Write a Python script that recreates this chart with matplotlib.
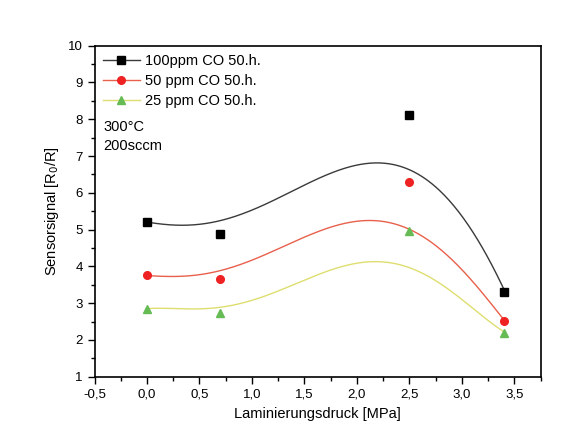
import numpy as np
import matplotlib
matplotlib.use('Agg')
import matplotlib.pyplot as plt
from matplotlib.ticker import MultipleLocator, FuncFormatter

plt.rcParams['font.family'] = ['Liberation Sans', 'DejaVu Sans']

# measured points
druck = [0.0, 0.7, 2.5, 3.4]
co_100 = [5.21, 4.87, 8.11, 3.31]
co_50 = [3.76, 3.65, 6.30, 2.51]
co_25 = [2.84, 2.72, 4.96, 2.18]

# fitted curves
fit_x_100 = [0.0, 0.35, 0.70, 1.08, 1.40, 1.94, 2.22, 2.54, 2.86, 3.17, 3.40]
fit_y_100 = [5.21, 5.10, 5.26, 5.62, 6.10, 6.66, 6.80, 6.66, 5.80, 4.62, 3.38]
fit_x_50 = [0.0, 0.35, 0.70, 1.08, 1.46, 1.81, 2.22, 2.54, 2.86, 3.17, 3.40]
fit_y_50 = [3.76, 3.70, 3.90, 4.31, 4.71, 5.08, 5.26, 4.99, 4.26, 3.36, 2.55]
fit_x_25 = [0.0, 0.35, 0.70, 1.08, 1.46, 1.81, 2.13, 2.54, 2.86, 3.17, 3.40]
fit_y_25 = [2.86, 2.81, 2.92, 3.17, 3.54, 3.95, 4.14, 3.95, 3.36, 2.72, 2.22]


def smooth(xs, ys):
    c = np.polyfit(xs, ys, 5)
    xx = np.linspace(min(xs), max(xs), 300)
    return xx, np.polyval(c, xx)


fig = plt.figure(figsize=(5.71, 4.43), dpi=100)
ax = fig.add_axes([0.1655, 0.1497, 0.7815, 0.7471])

series = [
    ('100ppm CO 50.h.', co_100, fit_x_100, fit_y_100, '#3a3a3a', 'black', 's', 5.5),
    ('50 ppm CO 50.h.', co_50, fit_x_50, fit_y_50, '#e8604c', '#ee2222', 'o', 5.5),
    ('25 ppm CO 50.h.', co_25, fit_x_25, fit_y_25, '#dede70', '#66bb55', '^', 6),
]
for name, vals, fx, fy, lc, mc, mk, ms in series:
    xx, yy = smooth(fx, fy)
    ax.plot(xx, yy, color=lc, lw=1.0, zorder=2)
    ax.plot(druck, vals, linestyle='none', marker=mk, ms=ms, color=mc,
            markeredgecolor=mc, zorder=3)
    ax.plot([], [], color=lc, lw=1.0, marker=mk, ms=ms, markerfacecolor=mc,
            markeredgecolor=mc, label=name)

ax.legend(loc='upper left', frameon=False, fontsize=10.5, handlelength=2.6,
          handletextpad=0.3, labelspacing=0.42, borderaxespad=0.2,
          borderpad=0.35)
ax.text(0.02, 0.755, '300°C', transform=ax.transAxes, fontsize=10.5,
        va='center')
ax.text(0.02, 0.697, '200sccm', transform=ax.transAxes, fontsize=10.5,
        va='center')

ax.set_xlim(-0.5, 3.75)
ax.set_ylim(1, 10)
ax.xaxis.set_major_locator(MultipleLocator(0.5))
ax.xaxis.set_minor_locator(MultipleLocator(0.25))
ax.yaxis.set_major_locator(MultipleLocator(1))
ax.yaxis.set_minor_locator(MultipleLocator(0.5))
ax.xaxis.set_major_formatter(FuncFormatter(lambda v, p: f'{v:.1f}'.replace('.', ',')))
ax.tick_params(which='major', direction='out', length=5, width=1, labelsize=9.5)
ax.tick_params(which='minor', direction='out', length=3, width=1)
for s in ax.spines.values():
    s.set_linewidth(1.2)

ax.set_xlabel('Laminierungsdruck [MPa]', fontsize=10.5, labelpad=5)
ax.set_ylabel('Sensorsignal [R$_0$/R]', fontsize=10.5, labelpad=5)

fig.savefig('out.png', dpi=100)
